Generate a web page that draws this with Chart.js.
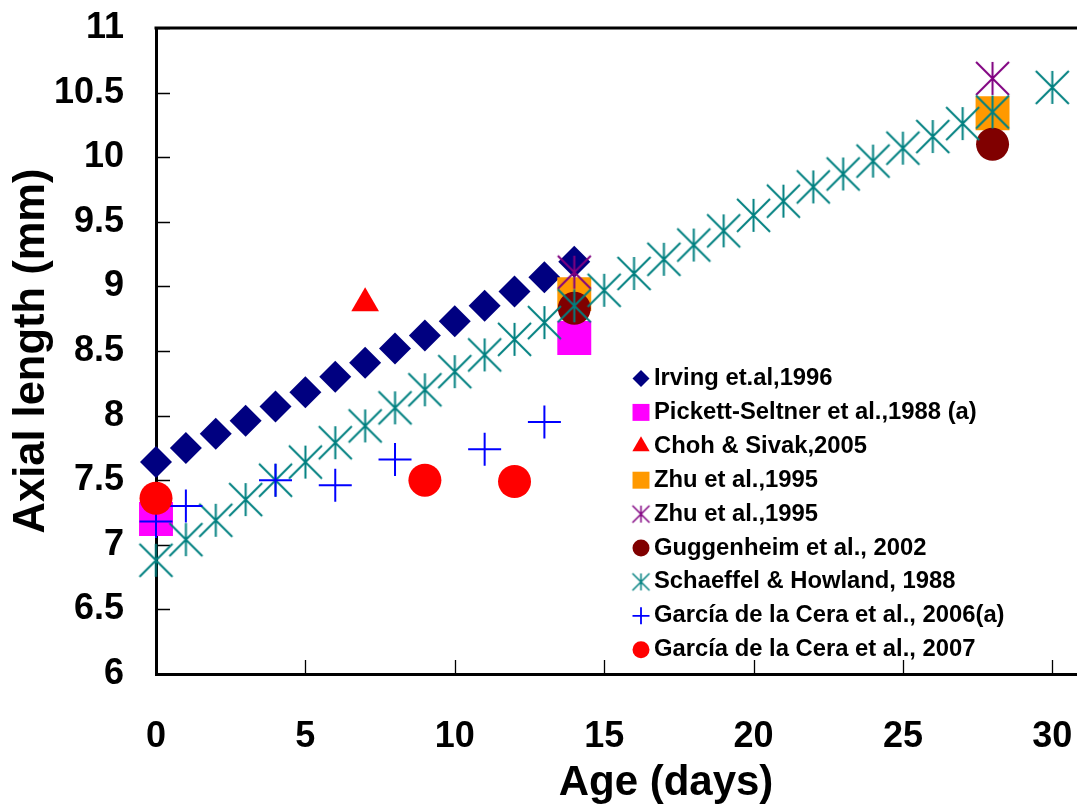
<!DOCTYPE html>
<html><head><meta charset="utf-8">
<script src="https://cdn.jsdelivr.net/npm/chart.js@4.4.1/dist/chart.umd.min.js"></script>
<style>
html,body{margin:0;padding:0;overflow:hidden;background:#fff;width:1077px;height:810px}
#wrap{position:absolute;left:0;top:0;width:1176px;height:810px}
</style>
</head><body><div id="wrap"><canvas id="c" width="1176" height="810"></canvas></div>
<script>
// ---------- data ----------
const seriesNames = [
  'Irving et.al,1996',
  'Pickett-Seltner et al.,1988 (a)',
  'Choh & Sivak,2005',
  'Zhu et al.,1995',
  'Zhu et al.,1995',
  'Guggenheim et al., 2002',
  'Schaeffel & Howland, 1988',
  'García de la Cera et al., 2006(a)',
  'García de la Cera et al., 2007'
];
const irvingDays   = [0,1,2,3,4,5,6,7,8,9,10,11,12,13,14];
const irvingValues = [7.64,7.75,7.86,7.96,8.07,8.18,8.30,8.41,8.52,8.62,8.73,8.85,8.96,9.07,9.19];
const pickettDays   = [0,14];
const pickettValues = [7.20,8.60];
const chohDays   = [7];
const chohValues = [8.87];
const zhuSquareDays   = [14,28];
const zhuSquareValues = [8.94,10.34];
const zhuStarDays   = [14,28];
const zhuStarValues = [9.11,10.61];
const guggDays   = [14,28];
const guggValues = [8.83,10.10];
const schaeffelDays   = [0,1,2,3,4,5,6,7,8,9,10,11,12,13,14,15,16,17,18,19,20,21,22,23,24,25,26,27,28,30];
const schaeffelValues = [6.88,7.04,7.19,7.35,7.50,7.64,7.79,7.92,8.06,8.20,8.34,8.47,8.59,8.72,8.85,8.97,9.10,9.21,9.32,9.43,9.55,9.66,9.77,9.87,9.97,10.07,10.16,10.26,10.35,10.54];
const garcia06Days   = [0,1,4,6,8,11,13];
const garcia06Values = [7.18,7.30,7.50,7.46,7.66,7.74,7.95];
const garcia07Days   = [0,9,12];
const garcia07Values = [7.36,7.50,7.49];
const xTickValues = [0,5,10,15,20,25,30];
const xTickLabels = ['0','5','10','15','20','25','30'];
const yTickValues = [6,6.5,7,7.5,8,8.5,9,9.5,10,10.5,11];
const yTickLabels = ['6','6.5','7','7.5','8','8.5','9','9.5','10','10.5','11'];

// ---------- styles ----------
const FONT = '"Liberation Sans", Arial, Helvetica, sans-serif';
function makeStar(color, size, lw) {
  const c = document.createElement('canvas');
  const pad = 2;
  c.width = size + pad * 2; c.height = size + pad * 2;
  const g = c.getContext('2d');
  g.strokeStyle = color; g.lineWidth = lw;
  const a = pad, b = pad + size, m = pad + size / 2;
  g.beginPath();
  g.moveTo(m, a); g.lineTo(m, b);
  g.moveTo(a, a); g.lineTo(b, b);
  g.moveTo(b, a); g.lineTo(a, b);
  g.stroke();
  return c;
}
const tealStar = makeStar('#008080', 33, 2);
const purpleStar = makeStar('#800080', 33, 2);
const tealStarSmall = makeStar('#008080', 17, 1.5);
const purpleStarSmall = makeStar('#800080', 17, 1.5);

function pts(xs, ys) { return xs.map((x, i) => ({x: x, y: ys[i]})); }

const styles = [
  {style: 'rectRot', color: '#000080', r: 16, lr: 8.5, fill: true},
  {style: 'rect', color: '#FF00FF', r: 24, lr: 12, fill: true},
  {style: 'triangle', color: '#FF0000', r: 16, lr: 10, fill: true},
  {style: 'rect', color: '#FF9900', r: 24, lr: 12, fill: true},
  {style: purpleStar, small: purpleStarSmall, color: '#800080', r: 17, lr: 8.5, fill: false},
  {style: 'circle', color: '#800000', r: 16.5, lr: 8.5, fill: true},
  {style: tealStar, small: tealStarSmall, color: '#008080', r: 17, lr: 8.5, fill: false},
  {style: 'cross', color: '#0000FF', r: 16.5, lr: 8.5, fill: false, bw: 2},
  {style: 'circle', color: '#FF0000', r: 16.5, lr: 8.5, fill: true}
];
const seriesData = [
  pts(irvingDays, irvingValues),
  pts(pickettDays, pickettValues),
  pts(chohDays, chohValues),
  pts(zhuSquareDays, zhuSquareValues),
  pts(zhuStarDays, zhuStarValues),
  pts(guggDays, guggValues),
  pts(schaeffelDays, schaeffelValues),
  pts(garcia06Days, garcia06Values),
  pts(garcia07Days, garcia07Values)
];

const datasets = seriesData.map((d, i) => {
  const s = styles[i];
  return {
    label: seriesNames[i],
    data: d,
    showLine: false,
    clip: false,
    order: 9 - i,
    pointStyle: s.style,
    pointRadius: s.r,
    pointHoverRadius: s.r,
    pointBackgroundColor: s.color,
    pointBorderColor: s.color,
    pointBorderWidth: s.bw || (s.fill ? 0 : 1)
  };
});

// inside tick marks, top frame, and legend
const framePlugin = {
  id: 'frame',
  beforeDatasetsDraw(chart) {
    const {ctx, chartArea: a, scales} = chart;
    ctx.save();
    ctx.strokeStyle = '#000';
    ctx.lineWidth = 1.3;
    ctx.beginPath();
    yTickValues.forEach(v => {
      const py = Math.round(scales.y.getPixelForValue(v)) + 0.5;
      ctx.moveTo(a.left, py); ctx.lineTo(a.left + 14, py);
    });
    xTickValues.forEach(v => {
      const px = Math.round(scales.x.getPixelForValue(v)) + 0.5;
      ctx.moveTo(px, a.bottom); ctx.lineTo(px, a.bottom - 14);
    });
    ctx.stroke();
    ctx.lineWidth = 3;
    ctx.beginPath();
    ctx.moveTo(a.left - 1.5, a.top);
    ctx.lineTo(a.right, a.top);
    ctx.stroke();
    ctx.restore();
  },
  afterDatasetsDraw(chart) {
    const {ctx} = chart;
    const mx = 641, tx = 654, y0 = 378.5, dy = 33.9;
    ctx.save();
    ctx.font = 'bold 23.8px ' + FONT;
    ctx.textBaseline = 'middle';
    ctx.textAlign = 'left';
    seriesNames.forEach((name, i) => {
      const s = styles[i];
      const y = y0 + i * dy;
      ctx.save();
      if (s.small) {
        ctx.drawImage(s.small, mx - s.small.width / 2, y - s.small.height / 2);
      } else {
        ctx.fillStyle = s.color;
        ctx.strokeStyle = s.color;
        ctx.lineWidth = s.fill ? 0.001 : 1.8;
        Chart.helpers.drawPoint(ctx, {pointStyle: s.style, radius: s.lr, borderWidth: s.fill ? 0 : 1.8, rotation: 0}, mx, y);
      }
      ctx.restore();
      ctx.fillStyle = '#000';
      ctx.fillText(name, tx, y);
    });
    ctx.restore();
  }
};

new Chart(document.getElementById('c'), {
  type: 'scatter',
  data: {datasets: datasets},
  options: {
    responsive: false,
    animation: false,
    devicePixelRatio: 1,
    layout: {autoPadding: false, padding: {top: 28, left: 0, right: 0, bottom: 0}},
    plugins: {legend: {display: false}, tooltip: {enabled: false}},
    scales: {
      x: {
        type: 'linear', min: 0, max: 34.14,
        grid: {display: false, drawTicks: false},
        border: {display: true, color: '#000', width: 3},
        ticks: {
          stepSize: 5, includeBounds: false, padding: 41,
          color: '#000', font: {family: FONT, size: 36, weight: 'bold'},
          callback: (v) => { const k = xTickValues.indexOf(v); return k >= 0 ? xTickLabels[k] : ''; }
        },
        afterBuildTicks: s => { s.ticks = xTickValues.map(v => ({value: v})); },
        afterFit: s => { s.height = 136; s.paddingLeft = 0; s.paddingRight = 0; },
        title: {display: true, text: 'Age (days)', color: '#000',
          font: {family: FONT, size: 42, weight: 'bold'}, padding: {top: 0, bottom: 1}}
      },
      y: {
        type: 'linear', min: 6, max: 11,
        grid: {display: false, drawTicks: false},
        border: {display: true, color: '#000', width: 3},
        ticks: {
          stepSize: 0.5, padding: 32,
          color: '#000', font: {family: FONT, size: 36, weight: 'bold'},
          callback: (v) => { const k = yTickValues.indexOf(v); return k >= 0 ? yTickLabels[k] : ''; }
        },
        afterBuildTicks: s => { s.ticks = yTickValues.map(v => ({value: v})); },
        afterFit: s => { s.width = 156; s.paddingTop = 0; s.paddingBottom = 0; },
        title: {display: true, text: 'Axial length (mm)', color: '#000',
          font: {family: FONT, size: 43.5, weight: 'bold'}, padding: {top: 6, bottom: 0}}
      }
    }
  },
  plugins: [framePlugin]
});
</script>
</body></html>
